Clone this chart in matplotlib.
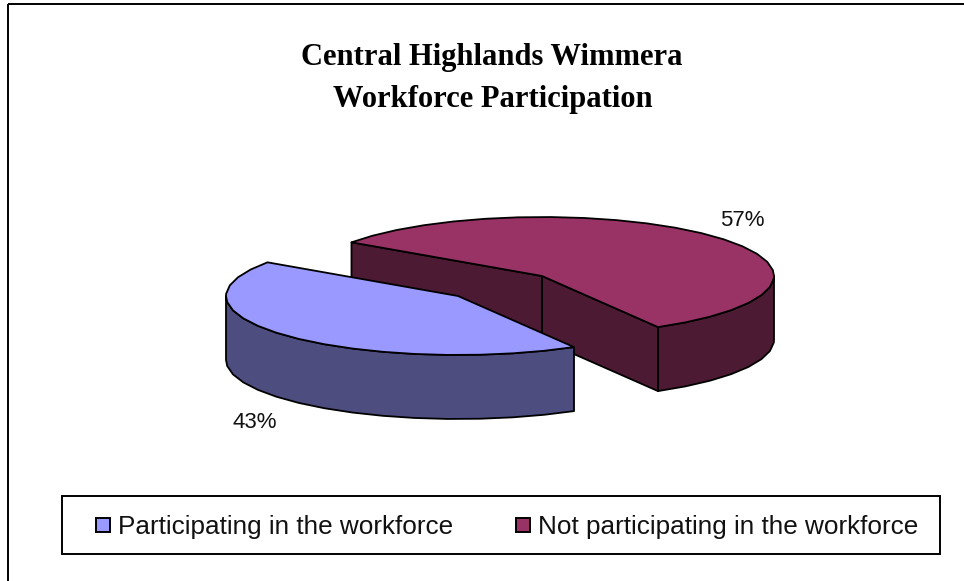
import numpy as np
import matplotlib
matplotlib.use("Agg")
import matplotlib.pyplot as plt
from matplotlib.patches import Polygon, Rectangle

# data
labels = ["Participating in the workforce", "Not participating in the workforce"]
values = [43, 57]
pct_labels = ["43%", "57%"]
title_lines = ["Central Highlands Wimmera", "Workforce Participation"]

top_colors = ["#9999FF", "#993366"]
side_colors = ["#4D4D80", "#4D1A33"]

W, H = 964, 581
fig = plt.figure(figsize=(W / 100, H / 100), dpi=100)
ax = fig.add_axes([0, 0, 1, 1])
ax.set_xlim(0, W)
ax.set_ylim(H, 0)
ax.axis("off")

# outer frame, right and bottom edges run off the picture
ax.add_patch(Rectangle((8, 4), W + 10, H + 10, fill=False, ec="black", lw=1.4))

# title
ax.text(492, 58, title_lines[0], family="Liberation Serif", weight="bold", fontsize=22,
        ha="center", va="center", color="black")
ax.text(492.5, 100, title_lines[1], family="Liberation Serif", weight="bold", fontsize=22,
        ha="center", va="center", color="black")

# pie geometry
a, b, depth = 232, 59, 64
centers = [(458, 296), (542, 276)]
start = 300  # degrees, ellipse parameter, counter clockwise
fractions = np.array(values) / sum(values)
sweeps = fractions * 360

# blue goes clockwise from the start angle, red counter clockwise
spans = [(start - sweeps[0], start), (start, start + sweeps[1])]


def rim_angles(t0, t1):
    # few points, the original outline is a coarse polygon
    t = np.linspace(t0, t1, int((t1 - t0) / 8) + 1)
    extra = [d for d in (180, 360) if t0 < d < t1]
    return np.unique(np.r_[t, extra])


def rim(cx, cy, t):
    r = np.radians(t)
    return np.column_stack([cx + a * np.cos(r), cy - b * np.sin(r)])


def draw_slice(i):
    cx, cy = centers[i]
    t0, t1 = spans[i]
    t = rim_angles(t0, t1)
    top = rim(cx, cy, t)
    centre = np.array([[cx, cy]])

    # cut faces that can be seen
    if i == 1:
        for end in (top[0], top[-1]):
            wall = np.vstack([centre, end[None], end[None] + [0, depth], centre + [0, depth]])
            ax.add_patch(Polygon(wall, fc=side_colors[i], ec="black", lw=1.3, joinstyle="round"))

    # outer wall, front part of the rim only
    front = np.sin(np.radians(t)) <= 1e-9
    pts = top[front]
    wall = np.vstack([pts, pts[::-1] + [0, depth]])
    ax.add_patch(Polygon(wall, fc=side_colors[i], ec="black", lw=1.3, joinstyle="round"))

    ax.add_patch(Polygon(np.vstack([centre, top]), fc=top_colors[i], ec="black", lw=1.3,
                         joinstyle="round"))


draw_slice(1)
draw_slice(0)

# percent labels
ax.text(255, 423, pct_labels[0], family="Liberation Sans", fontsize=16, ha="center", va="center",
        color="#111111")
ax.text(742, 221, pct_labels[1], family="Liberation Sans", fontsize=16, ha="center", va="center",
        color="#111111")

# legend
ax.add_patch(Rectangle((62, 496), 878, 57.5, fc="white", ec="black", lw=1.4))
ax.add_patch(Rectangle((96, 518), 13.5, 14, fc=top_colors[0], ec="black", lw=1.4))
ax.add_patch(Rectangle((516, 518), 13.5, 14, fc=top_colors[1], ec="black", lw=1.4))
ax.text(118, 527, labels[0], family="Liberation Sans", fontsize=18.85, ha="left", va="center",
        color="#111111")
ax.text(538, 527, labels[1], family="Liberation Sans", fontsize=18.85, ha="left", va="center",
        color="#111111")

fig.savefig("out.png", dpi=100)
